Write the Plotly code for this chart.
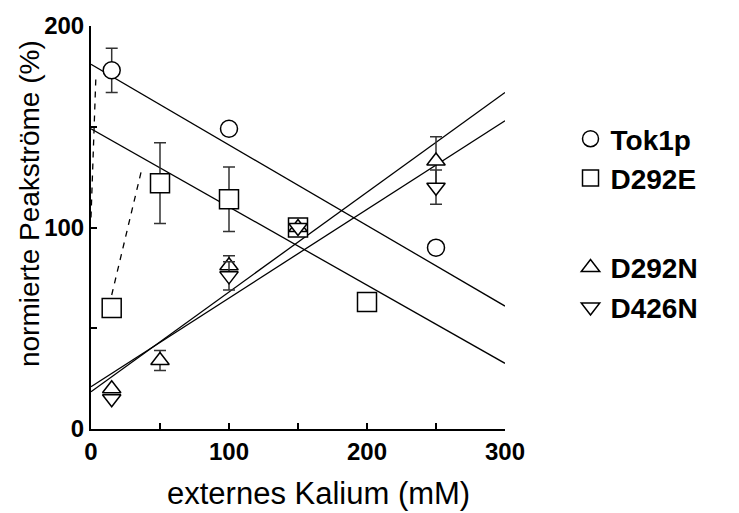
import plotly.graph_objects as go

# ---- data ----
x_tok = [15, 100, 150, 250]
y_tok = [178, 149, 100, 90]
e_tok = [11, 0, 0, 0]

x_e = [15, 50, 100, 150, 200]
y_e = [60, 122, 114, 100, 63]
e_e = [0, 20, 16, 0, 0]

x_n = [15, 50, 100, 150, 250]
y_n = [20, 34, 81, 100, 133]
e_n = [0, 5, 5, 0, 12]

x_d = [15, 100, 150, 250]
y_d = [15, 76, 100, 120]
e_d = [0, 7, 0, 8.5]

# linear fits: (intercept, slope)
fit_tok = (181, -0.40)
fit_e = (149, -0.388)
fit_n = (18.5, 0.495)
fit_d = (21, 0.44)
fit_x = [0, 300]

# dashed initial segments
dash_tok_x = [0, 3.6]
dash_tok_y = [105, 176]
dash_e_x = [15, 36.7]
dash_e_y = [66.5, 128.7]

x_tickvals = [0, 50, 100, 150, 200, 250, 300]
x_ticktext = ["0", "", "100", "", "200", "", "300"]
y_tickvals = [0, 50, 100, 150, 200]
y_ticktext = ["0", "", "100", "", "200"]

FONT = "Liberation Sans, Arial, sans-serif"
fig = go.Figure()

for b, m in [fit_tok, fit_e, fit_n, fit_d]:
    fig.add_trace(go.Scatter(x=fit_x, y=[b + m * xx for xx in fit_x], mode="lines",
                             line=dict(color="black", width=1.3), showlegend=False,
                             hoverinfo="skip"))

for xs, ys in [(dash_tok_x, dash_tok_y), (dash_e_x, dash_e_y)]:
    fig.add_trace(go.Scatter(x=xs, y=ys, mode="lines",
                             line=dict(color="black", width=1.3, dash="6px,6px"),
                             showlegend=False, hoverinfo="skip"))

def pts(xs, ys, es, name, symbol, size, group):
    return go.Scatter(
        x=xs, y=ys, mode="markers", name=name, legendgroup=group,
        marker=dict(symbol=symbol, size=size, color="white",
                    line=dict(color="black", width=1.5)),
        error_y=dict(type="data", array=es, visible=True, color="#333333",
                     thickness=1.5, width=6),
    )

fig.add_trace(pts(x_tok, y_tok, e_tok, "Tok1p", "circle", 17, "g1"))
fig.add_trace(pts(x_e, y_e, e_e, "D292E", "square", 19, "g1"))
fig.add_trace(pts(x_n, y_n, e_n, "D292N", "triangle-up", 16, "g2"))
fig.add_trace(pts(x_d, y_d, e_d, "D426N", "triangle-down", 16, "g2"))

axis_common = dict(showgrid=False, zeroline=False, showline=True, linecolor="black",
                   linewidth=2, ticks="inside", ticklen=6, tickwidth=1.5,
                   tickcolor="black", mirror=False,
                   tickfont=dict(family=FONT, size=24, color="black", weight="bold"))

fig.update_xaxes(range=[0, 300], tickmode="array", tickvals=x_tickvals,
                 ticktext=x_ticktext, **axis_common)
fig.update_yaxes(range=[0, 200], tickmode="array", tickvals=y_tickvals,
                 ticktext=y_ticktext, **axis_common)

fig.add_annotation(text="externes Kalium (mM)", xref="paper", yref="paper",
                   x=0.55, y=-0.16, xanchor="center", yanchor="middle",
                   showarrow=False, font=dict(family=FONT, size=31, color="black"))
fig.add_annotation(text="normierte Peakströme (%)", xref="paper", yref="paper",
                   x=-0.148, y=0.56, xanchor="center", yanchor="middle", textangle=-90,
                   showarrow=False, font=dict(family=FONT, size=28, color="black"))

fig.update_layout(
    width=739, height=513,
    margin=dict(l=91, r=234, t=16, b=84),
    plot_bgcolor="white", paper_bgcolor="white",
    showlegend=True,
    legend=dict(xref="container", yref="container", x=0.772, y=1 - 114 / 513,
                xanchor="left", yanchor="top", traceorder="grouped",
                tracegroupgap=50, bgcolor="rgba(0,0,0,0)",
                font=dict(family=FONT, size=28, color="black", weight="bold"),
                itemwidth=30),
)

fig.write_html("out.html")
